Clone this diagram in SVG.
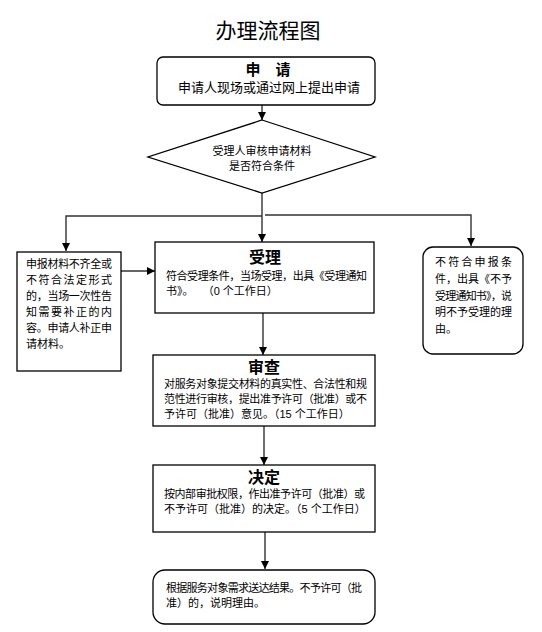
<svg xmlns="http://www.w3.org/2000/svg" width="542" height="632" viewBox="0 0 542 632">
<defs>
<marker id="ah" viewBox="0 0 10 10" refX="10" refY="5" markerWidth="8" markerHeight="8" markerUnits="userSpaceOnUse" orient="auto">
<path d="M0,0 L10,5 L0,10 z" fill="#000"/>
</marker>
<style>
.bx{fill:#fff;stroke:#000;stroke-width:1.3}
.ln{fill:none;stroke:#333;stroke-width:1.4}
.t{font-family:"Liberation Sans","Noto Sans CJK SC",sans-serif;font-size:11px;fill:#000}
.h{font-family:"Liberation Sans","Noto Sans CJK SC",sans-serif;font-size:15px;font-weight:bold;fill:#000;text-anchor:middle}
</style>
</defs>
<rect width="542" height="632" fill="#fff"/>
<text x="268" y="38" text-anchor="middle" style="font-family:'Liberation Sans','Noto Sans CJK SC',sans-serif;font-size:21px;fill:#000">办理流程图</text>

<g id="connectors">
<line class="ln" x1="262" y1="105" x2="262" y2="120" marker-end="url(#ah)"/>
<line class="ln" x1="262" y1="193" x2="262" y2="242" marker-end="url(#ah)"/>
<polyline class="ln" points="262,216 66,216 66,251" marker-end="url(#ah)"/>
<polyline class="ln" points="265,215 471,215 471,246" marker-end="url(#ah)"/>
<line class="ln" x1="121" y1="271" x2="155" y2="271" marker-end="url(#ah)"/>
<line class="ln" x1="263" y1="313" x2="263" y2="355" marker-end="url(#ah)"/>
<line class="ln" x1="264" y1="426" x2="264" y2="465" marker-end="url(#ah)"/>
<line class="ln" x1="265" y1="532" x2="265" y2="569" marker-end="url(#ah)"/>
</g>

<g id="apply">
<rect class="bx" x="157" y="57" width="218" height="48" rx="6"/>
<text class="h" x="268" y="75">申　请</text>
<text class="t" x="269" y="92" text-anchor="middle" style="font-size:13px">申请人现场或通过网上提出申请</text>
</g>

<g id="check">
<polygon class="bx" points="262,120 375,157 262,193 148,157"/>
<text class="t" x="262" y="155" text-anchor="middle">受理人审核申请材料</text>
<text class="t" x="262" y="170" text-anchor="middle">是否符合条件</text>
</g>

<g id="incomplete">
<rect class="bx" x="17" y="252" width="104" height="119"/>
<text class="t" x="26" y="268" textLength="86" lengthAdjust="spacing">申报材料不齐全或</text>
<text class="t" x="26" y="284" textLength="86" lengthAdjust="spacing">不符合法定形式</text>
<text class="t" x="26" y="300" textLength="86" lengthAdjust="spacing">的，当场一次性告</text>
<text class="t" x="26" y="316" textLength="86" lengthAdjust="spacing">知需要补正的内</text>
<text class="t" x="26" y="332" textLength="86" lengthAdjust="spacing">容。申请人补正申</text>
<text class="t" x="26" y="348">请材料。</text>
</g>

<g id="accept">
<rect class="bx" x="155" y="242" width="219" height="71"/>
<text class="h" x="265" y="263" style="font-size:16px">受理</text>
<text class="t" x="166" y="280" textLength="201" lengthAdjust="spacing">符合受理条件，当场受理，出具《受理通知</text>
<text class="t" x="166" y="295" xml:space="preserve">书》。   （0 个工作日）</text>
</g>

<g id="reject">
<rect class="bx" x="423" y="247" width="100" height="107" rx="10"/>
<text class="t" x="435" y="266" textLength="77" lengthAdjust="spacing">不符合申报条</text>
<text class="t" x="435" y="283" textLength="77" lengthAdjust="spacing">件，出具《不予</text>
<text class="t" x="435" y="300" textLength="77" lengthAdjust="spacing">受理通知书》，说</text>
<text class="t" x="435" y="316" textLength="77" lengthAdjust="spacing">明不予受理的理</text>
<text class="t" x="435" y="333">由。</text>
</g>

<g id="review">
<rect class="bx" x="153" y="355" width="222" height="71"/>
<text class="h" x="264" y="373" style="font-size:16px">审查</text>
<text class="t" x="164" y="388" textLength="203" lengthAdjust="spacing">对服务对象提交材料的真实性、合法性和规</text>
<text class="t" x="164" y="403" textLength="203" lengthAdjust="spacing">范性进行审核，提出准予许可（批准）或不</text>
<text class="t" x="164" y="418">予许可（批准）意见。（15 个工作日）</text>
</g>

<g id="decide">
<rect class="bx" x="153" y="465" width="222" height="67"/>
<text class="h" x="264" y="483" style="font-size:16px">决定</text>
<text class="t" x="164" y="498" textLength="201" lengthAdjust="spacing">按内部审批权限，作出准予许可（批准）或</text>
<text class="t" x="164" y="513">不予许可（批准）的决定。（5 个工作日）</text>
</g>

<g id="deliver">
<rect class="bx" x="153" y="570" width="222" height="54" rx="12"/>
<text class="t" x="166" y="592" textLength="196" lengthAdjust="spacing">根据服务对象需求送达结果。不予许可（批</text>
<text class="t" x="166" y="607">准）的，说明理由。</text>
</g>
</svg>
